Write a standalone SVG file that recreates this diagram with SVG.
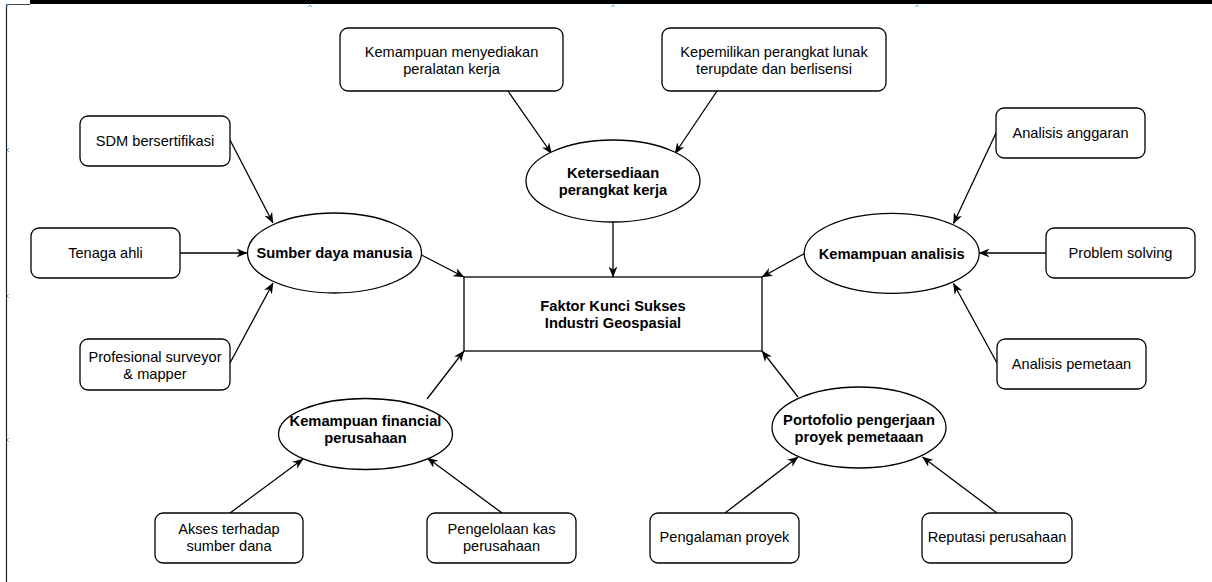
<svg xmlns="http://www.w3.org/2000/svg" width="1212" height="582" viewBox="0 0 1212 582">
<style>
.box{fill:#fff;stroke:#000;stroke-width:1.3}
.t{font-family:"Liberation Sans",Arial,sans-serif;font-size:14.6px;fill:#000;text-anchor:middle}
.b{font-family:"Liberation Sans",Arial,sans-serif;font-size:14.7px;font-weight:bold;fill:#000;text-anchor:middle}
.c{fill:none;stroke:#000;stroke-width:1.3;marker-end:url(#arr)}
.h{fill:none;stroke:#5aa9f0;stroke-width:1}
</style>
<defs>
<marker id="arr" markerUnits="userSpaceOnUse" viewBox="0 0 10 8" refX="9.5" refY="4" markerWidth="11" markerHeight="9" orient="auto">
<path d="M0,0 L10,4 L0,8 L3,4 Z" fill="#000"/>
</marker>
</defs>
<rect width="1212" height="582" fill="#fff"/>
<g id="frame">
<rect x="30" y="0" width="1182" height="4" fill="#000"/>
<line x1="6.5" y1="4.5" x2="30" y2="4.5" stroke="#444" stroke-width="1"/>
<line x1="6.5" y1="4.5" x2="6.5" y2="582" stroke="#222" stroke-width="1.2"/>
<polyline class="h" points="308,7 310,5 312,7"/>
<polyline class="h" points="611,7 613,5 615,7"/>
<polyline class="h" points="915,7 917,5 919,7"/>
<polyline class="h" points="9,148 7,150 9,152"/>
<polyline class="h" points="9,294 7,296 9,298"/>
<polyline class="h" points="9,438 7,440 9,442"/>
<polyline class="h" points="7,7 7,5 9,5"/>
</g>
<g id="connectors">
<line class="c" x1="230" y1="140" x2="273" y2="223"/>
<line class="c" x1="180" y1="253" x2="247" y2="253"/>
<line class="c" x1="230" y1="363" x2="273" y2="283"/>
<line class="c" x1="421.5" y1="255" x2="464" y2="277"/>
<line class="c" x1="613" y1="222" x2="613" y2="277"/>
<line class="c" x1="508" y1="91" x2="551.5" y2="153.5"/>
<line class="c" x1="717" y1="91" x2="675" y2="153.5"/>
<line class="c" x1="996" y1="133" x2="953.5" y2="223.5"/>
<line class="c" x1="1046" y1="253" x2="979" y2="253"/>
<line class="c" x1="997" y1="363" x2="953.5" y2="283.5"/>
<line class="c" x1="804.5" y1="253.5" x2="762" y2="277"/>
<line class="c" x1="427" y1="399" x2="464" y2="351"/>
<line class="c" x1="230" y1="513" x2="303" y2="459"/>
<line class="c" x1="502" y1="513" x2="427.5" y2="458"/>
<line class="c" x1="798" y1="397" x2="762" y2="351"/>
<line class="c" x1="725" y1="513" x2="798" y2="457"/>
<line class="c" x1="997" y1="513" x2="922.5" y2="457"/>
</g>
<g id="center">
<rect class="box" x="464" y="277" width="298" height="74"/>
<text class="b" x="613" y="311">Faktor Kunci Sukses</text>
<text class="b" x="613" y="328">Industri Geospasial</text>
</g>
<g id="sdm-main">
<ellipse class="box" cx="334.5" cy="253" rx="87" ry="40"/>
<text class="b" x="334.5" y="258">Sumber daya manusia</text>
</g>
<g id="perangkat-main">
<ellipse class="box" cx="613" cy="181" rx="87" ry="41"/>
<text class="b" x="613" y="178">Ketersediaan</text>
<text class="b" x="613" y="195">perangkat kerja</text>
</g>
<g id="analisis-main">
<ellipse class="box" cx="891.7" cy="253.3" rx="87.5" ry="40"/>
<text class="b" x="891.7" y="258.5">Kemampuan analisis</text>
</g>
<g id="financial-main">
<ellipse class="box" cx="365.5" cy="434" rx="87" ry="35.5"/>
<text class="b" x="365.5" y="426">Kemampuan financial</text>
<text class="b" x="365.5" y="443.3">perusahaan</text>
</g>
<g id="portofolio-main">
<ellipse class="box" cx="859" cy="427.5" rx="87" ry="40.5"/>
<text class="b" x="859" y="424.5">Portofolio pengerjaan</text>
<text class="b" x="859" y="442">proyek pemetaaan</text>
</g>
<g id="sdm-sertifikasi">
<rect class="box" x="80" y="116" width="150" height="50" rx="8"/>
<text class="t" x="155" y="146">SDM bersertifikasi</text>
</g>
<g id="tenaga-ahli">
<rect class="box" x="31" y="228" width="149" height="50" rx="8"/>
<text class="t" x="105.5" y="258">Tenaga ahli</text>
</g>
<g id="profesional">
<rect class="box" x="80" y="339" width="150" height="51" rx="8"/>
<text class="t" x="155" y="361.5">Profesional surveyor</text>
<text class="t" x="155" y="379">&amp; mapper</text>
</g>
<g id="peralatan">
<rect class="box" x="340" y="28" width="223" height="63" rx="8"/>
<text class="t" x="451.5" y="56.5">Kemampuan menyediakan</text>
<text class="t" x="451.5" y="74">peralatan kerja</text>
</g>
<g id="perangkat-lunak">
<rect class="box" x="662" y="28" width="224" height="63" rx="8"/>
<text class="t" x="774" y="56.5">Kepemilikan perangkat lunak</text>
<text class="t" x="774" y="74">terupdate dan berlisensi</text>
</g>
<g id="anggaran">
<rect class="box" x="996" y="108" width="149" height="50" rx="8"/>
<text class="t" x="1070.5" y="138">Analisis anggaran</text>
</g>
<g id="problem-solving">
<rect class="box" x="1046" y="228" width="149" height="50" rx="8"/>
<text class="t" x="1120.5" y="258">Problem solving</text>
</g>
<g id="pemetaan">
<rect class="box" x="997" y="339" width="149" height="50" rx="8"/>
<text class="t" x="1071.5" y="368.5">Analisis pemetaan</text>
</g>
<g id="akses-dana">
<rect class="box" x="155" y="513" width="148" height="50" rx="8"/>
<text class="t" x="229" y="534">Akses terhadap</text>
<text class="t" x="229" y="550.5">sumber dana</text>
</g>
<g id="kas">
<rect class="box" x="427" y="513" width="149" height="50" rx="8"/>
<text class="t" x="501.5" y="534">Pengelolaan kas</text>
<text class="t" x="501.5" y="550.5">perusahaan</text>
</g>
<g id="pengalaman">
<rect class="box" x="650" y="513" width="149" height="50" rx="8"/>
<text class="t" x="724.5" y="541.5">Pengalaman proyek</text>
</g>
<g id="reputasi">
<rect class="box" x="922" y="513" width="150" height="50" rx="8"/>
<text class="t" x="997" y="541.5">Reputasi perusahaan</text>
</g>
</svg>
